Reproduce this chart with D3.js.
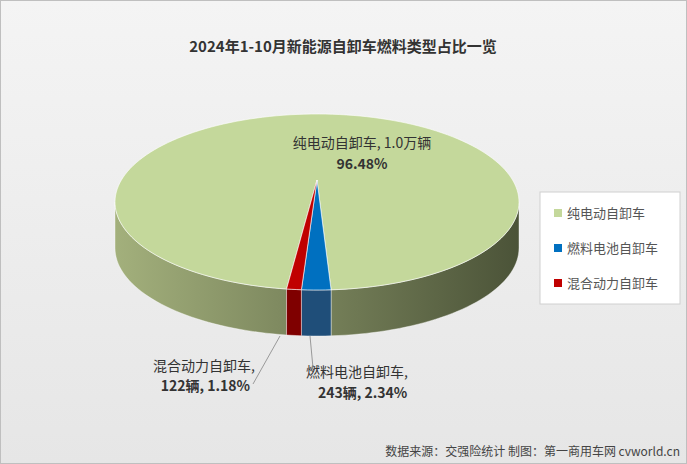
<!DOCTYPE html>
<html><head><meta charset="utf-8">
<script src="https://cdn.jsdelivr.net/npm/d3@7"></script>
<style>body{margin:0;}svg{display:block;font-family:"Noto Sans CJK SC","Noto Sans",sans-serif;}</style>
</head><body>
<svg id="c" width="687" height="464"></svg>
<script>
let names = ['纯电动自卸车','燃料电池自卸车','混合动力自卸车'];
let counts = ['1.0万辆','243辆','122辆'];
let shares = [96.48, 2.34, 1.18];
let topColors = ['#c4d89b','#0070c0','#c00000'];
let sideColors = [['#a3b07c','#4b5338'],['#1f4e79','#1f4e79'],['#7f0000','#7f0000']];

let svg = d3.select('#c');
let defs = svg.append('defs');
let bg = defs.append('linearGradient').attr('id','bg').attr('x2',0).attr('y2',1);
bg.append('stop').attr('offset',0).attr('stop-color','#f4f4f4');
bg.append('stop').attr('offset',1).attr('stop-color','#e6e6e6');
svg.append('rect').attr('x',0.5).attr('y',0.5).attr('width',686).attr('height',463)
  .attr('fill','url(#bg)').attr('stroke','#bfbfbf');
svg.append('text').attr('x',343).attr('y',52).attr('text-anchor','middle')
  .attr('font-size',15).attr('font-weight','bold').attr('fill','#333').text('2024年1-10月新能源自卸车燃料类型占比一览');

let cx = 317, cy = 202, rx = 202, ry = 88, depth = 46;
// slice angles in degrees, bottom of ellipse = 90
let start = 86;
let sb = {i:1, a0:start, a1:start+shares[1]*3.6};
let sr = {i:2, a0:sb.a1, a1:sb.a1+shares[2]*3.6};
let sg = {i:0, a0:sr.a1, a1:start+360};
let order = [sg, sb, sr];

let rad = d=>d*Math.PI/180;
let px = t=>cx+rx*Math.cos(rad(t)), py = t=>cy+ry*Math.sin(rad(t));
function arcPts(a0,a1,dy){let p=[];let n=Math.max(2,Math.ceil((a1-a0)/2));
  for(let k=0;k<=n;k++){let t=a0+(a1-a0)*k/n;p.push([px(t),py(t)+dy]);}return p;}
let line = d3.line();

// sides (front half 0..180)
order.forEach(s=>{
  let ranges=[];
  for(let base=0;base<=360;base+=360){
    let lo=Math.max(s.a0,base), hi=Math.min(s.a1,base+180);
    if(hi>lo) ranges.push([lo,hi]);
  }
  ranges.forEach(([lo,hi])=>{
    let gid='g'+s.i+'_'+Math.round(lo);
    let g=defs.append('linearGradient').attr('id',gid).attr('gradientUnits','userSpaceOnUse')
      .attr('x1',cx-rx).attr('x2',cx+rx).attr('y1',0).attr('y2',0);
    g.append('stop').attr('offset',0).attr('stop-color',sideColors[s.i][0]);
    g.append('stop').attr('offset',1).attr('stop-color',sideColors[s.i][1]);
    let top=arcPts(lo,hi,0), bot=arcPts(lo,hi,depth).reverse();
    svg.append('path').attr('d',line(top.concat(bot))+'Z')
      .attr('fill',s.i===0?`url(#${gid})`:sideColors[s.i][0]).attr('stroke','#fff').attr('stroke-width',0.4);
  });
});
// tops
order.forEach(s=>{
  let p=[[cx,cy-22]].concat(arcPts(s.a0,s.a1,0));
  svg.append('path').attr('d',line(p)+'Z').attr('fill',topColors[s.i])
    .attr('stroke','#fff').attr('stroke-width',0.6);
});

// labels
let lab = svg.append('g').attr('font-size',14).attr('fill','#333');
lab.append('text').attr('x',362).attr('y',148).attr('text-anchor','middle').text(names[0]+', '+counts[0]);
lab.append('text').attr('x',362).attr('y',169).attr('text-anchor','middle').attr('font-weight','bold').text(shares[0].toFixed(2)+'%');
lab.append('text').attr('x',255).attr('y',371).attr('text-anchor','end').text(names[2]+',');
lab.append('text').attr('x',250).attr('y',391).attr('text-anchor','end').attr('font-weight','bold').text(counts[2]+', '+shares[2].toFixed(2)+'%');
lab.append('text').attr('x',306).attr('y',377).text(names[1]+',');
lab.append('text').attr('x',318).attr('y',398).attr('font-weight','bold').text(counts[1]+', '+shares[1].toFixed(2)+'%');
svg.append('path').attr('d','M253,384L280,336').attr('stroke','#999').attr('fill','none');
svg.append('path').attr('d','M313,368L310,336').attr('stroke','#999').attr('fill','none');

// legend
let lg = svg.append('g');
lg.append('rect').attr('x',540).attr('y',192).attr('width',140).attr('height',112).attr('fill','#fff').attr('stroke','#d0d0d0');
names.forEach((n,i)=>{
  lg.append('rect').attr('x',554).attr('y',209+i*35).attr('width',8).attr('height',8).attr('fill',topColors[i]);
  lg.append('text').attr('x',567).attr('y',218+i*35).attr('font-size',13).attr('fill','#555').text(n);
});
svg.append('text').attr('x',680).attr('y',456).attr('text-anchor','end').attr('font-size',12).attr('fill','#444')
  .text('数据来源：交强险统计  制图：第一商用车网 cvworld.cn');
</script>
</body></html>
